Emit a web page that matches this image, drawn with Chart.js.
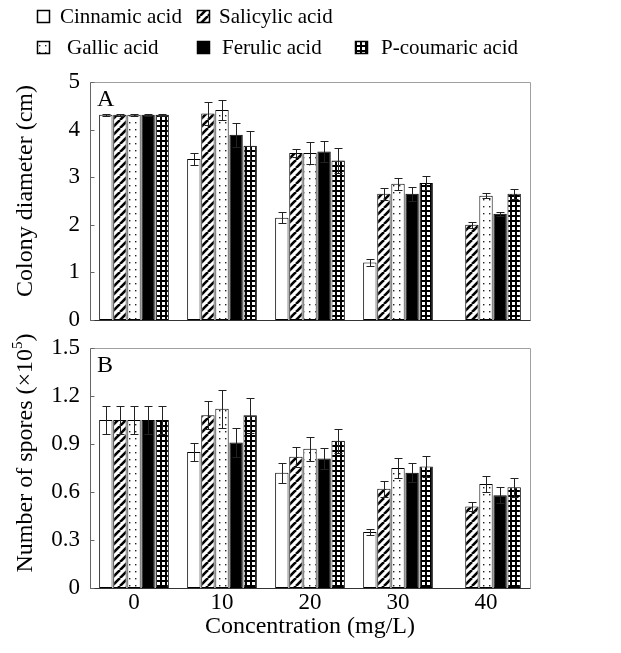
<!DOCTYPE html>
<html>
<head>
<meta charset="utf-8">
<script src="https://cdn.jsdelivr.net/npm/chart.js@4.4.1/dist/chart.umd.min.js"></script>
<style>
  html, body { margin: 0; padding: 0; background: #fff; }
  #wrap { position: relative; width: 621px; height: 653px; }
  canvas { position: absolute; left: 0; }
  #chartA { top: 0; }
  #chartB { top: 330px; }
</style>
</head>
<body>
<div id="wrap">
  <canvas id="chartA" width="621" height="330"></canvas>
  <canvas id="chartB" width="621" height="323"></canvas>
</div>
<script>
// categories and series
const categories = ['0', '10', '20', '30', '40'];
const acids = ['Cinnamic acid', 'Salicylic acid', 'Gallic acid', 'Ferulic acid', 'P-coumaric acid'];

// Panel A - colony diameter (cm)
const diamCinnamic = [4.31, 3.38, 2.15, 1.21, 0];
const diamSalicylic = [4.31, 4.34, 3.51, 2.65, 2.00];
const diamGallic = [4.31, 4.41, 3.51, 2.86, 2.61];
const diamFerulic = [4.31, 3.89, 3.54, 2.65, 2.23];
const diamCoumaric = [4.31, 3.66, 3.35, 2.88, 2.65];

const diamErrCinnamic = [0.02, 0.12, 0.11, 0.08, 0];
const diamErrSalicylic = [0.02, 0.25, 0.08, 0.13, 0.06];
const diamErrGallic = [0.02, 0.21, 0.23, 0.13, 0.05];
const diamErrFerulic = [0.02, 0.25, 0.23, 0.15, 0.04];
const diamErrCoumaric = [0.02, 0.31, 0.26, 0.15, 0.11];

// Panel B - number of spores (x10^5)
const sporeCinnamic = [1.05, 0.85, 0.72, 0.35, 0];
const sporeSalicylic = [1.05, 1.08, 0.82, 0.62, 0.51];
const sporeGallic = [1.05, 1.12, 0.87, 0.75, 0.65];
const sporeFerulic = [1.05, 0.91, 0.81, 0.72, 0.58];
const sporeCoumaric = [1.05, 1.08, 0.92, 0.76, 0.63];

const sporeErrCinnamic = [0.085, 0.058, 0.062, 0.02, 0];
const sporeErrSalicylic = [0.085, 0.088, 0.062, 0.05, 0.03];
const sporeErrGallic = [0.085, 0.12, 0.075, 0.065, 0.05];
const sporeErrFerulic = [0.085, 0.09, 0.067, 0.06, 0.05];
const sporeErrCoumaric = [0.085, 0.11, 0.075, 0.065, 0.06];

// axis ticks
const diamTicks = [0, 1, 2, 3, 4, 5];
const sporeTicks = [0, 0.3, 0.6, 0.9, 1.2, 1.5];

const SERIF = '"Liberation Serif", "DejaVu Serif", serif';

// --- fill patterns ---
function makeTile(w, h, draw) {
  const c = document.createElement('canvas');
  c.width = w; c.height = h;
  const g = c.getContext('2d');
  draw(g, w, h);
  return c;
}

const tiles = [
  null,
  makeTile(8, 8, (g, w, h) => {
    g.fillStyle = '#fff'; g.fillRect(0, 0, w, h);
    g.strokeStyle = '#000'; g.lineWidth = 2.6;
    for (const o of [-8, 0, 8]) {
      g.beginPath(); g.moveTo(o, h); g.lineTo(o + w, 0); g.stroke();
    }
  }),
  makeTile(6, 7, (g, w, h) => {
    g.fillStyle = '#fff'; g.fillRect(0, 0, w, h);
    g.fillStyle = '#222'; g.fillRect(3, 3, 1.4, 1.4);
  }),
  null,
  makeTile(5, 5, (g, w, h) => {
    g.fillStyle = '#fff'; g.fillRect(0, 0, w, h);
    g.fillStyle = '#000'; g.fillRect(0, 0, w, 2); g.fillRect(0, 0, 2, h);
  })
];

function fillFor(ctx, i) {
  if (i === 0) return '#fff';
  if (i === 3) return '#000';
  return ctx.createPattern(tiles[i], 'repeat');
}

// --- plugins ---
const errorBars = {
  id: 'errorBars',
  afterDatasetsDraw(chart) {
    const { ctx } = chart;
    const yScale = chart.scales.y;
    ctx.save();
    ctx.strokeStyle = '#222';
    ctx.lineWidth = 1;
    chart.data.datasets.forEach((ds, di) => {
      const meta = chart.getDatasetMeta(di);
      meta.data.forEach((bar, i) => {
        const v = ds.data[i], e = ds.errors[i];
        if (!e) return;
        const yTop = Math.round(yScale.getPixelForValue(v + e)) + 0.5;
        const yBot = Math.round(yScale.getPixelForValue(v - e)) + 0.5;
        const x = Math.round(bar.x) + 0.5;
        ctx.beginPath();
        ctx.moveTo(x, yTop); ctx.lineTo(x, yBot);
        ctx.moveTo(x - 4, yTop); ctx.lineTo(x + 4, yTop);
        ctx.moveTo(x - 4, yBot); ctx.lineTo(x + 4, yBot);
        ctx.stroke();
      });
    });
    ctx.restore();
  }
};

const frame = {
  id: 'frame',
  afterDraw(chart, args, opts) {
    const { ctx, chartArea: a } = chart;
    const yScale = chart.scales.y;
    ctx.save();
    ctx.lineWidth = 1;
    const L = Math.round(a.left) + 0.5, R = Math.round(a.right) + 0.5;
    const T = Math.round(a.top) + 0.5, B = Math.round(a.bottom) + 0.5;
    ctx.strokeStyle = '#a0a0a0';
    ctx.beginPath(); ctx.moveTo(L, T); ctx.lineTo(R, T); ctx.lineTo(R, B); ctx.stroke();
    ctx.strokeStyle = '#666';
    ctx.beginPath(); ctx.moveTo(L, T); ctx.lineTo(L, B); ctx.stroke();
    ctx.strokeStyle = '#333';
    ctx.beginPath(); ctx.moveTo(L, B); ctx.lineTo(R, B); ctx.stroke();
    // inward ticks on the y axis
    ctx.strokeStyle = '#666';
    opts.ticks.forEach(t => {
      const y = Math.round(yScale.getPixelForValue(t)) + 0.5;
      ctx.beginPath(); ctx.moveTo(L, y); ctx.lineTo(L + 4, y); ctx.stroke();
    });
    // panel letter
    ctx.fillStyle = '#000';
    ctx.font = '24px ' + SERIF;
    ctx.textBaseline = 'top';
    ctx.textAlign = 'left';
    ctx.fillText(opts.letter, a.left + 7, a.top + 6);
    // rotated y title
    ctx.translate(opts.titleX, (a.top + a.bottom) / 2 + opts.titleShift);
    ctx.rotate(-Math.PI / 2);
    ctx.textBaseline = 'middle';
    const big = '24px ' + SERIF, small = '15px ' + SERIF;
    const parts = opts.title;
    let total = 0;
    parts.forEach(p => { ctx.font = p.sup ? small : big; total += ctx.measureText(p.text).width; });
    let x = -total / 2;
    parts.forEach(p => {
      ctx.font = p.sup ? small : big;
      ctx.fillText(p.text, x, p.sup ? -8 : 0);
      x += ctx.measureText(p.text).width;
    });
    ctx.restore();
  }
};

const legendBoxes = {
  id: 'legendBoxes',
  afterDraw(chart) {
    const { ctx } = chart;
    const items = [
      { i: 0, bx: 37, by: 10, tx: 60, ty: 17 },
      { i: 1, bx: 197, by: 10, tx: 219, ty: 17 },
      { i: 2, bx: 37, by: 41, tx: 67, ty: 48 },
      { i: 3, bx: 197, by: 41, tx: 222, ty: 48 },
      { i: 4, bx: 355, by: 41, tx: 381, ty: 48 }
    ];
    ctx.save();
    items.forEach(it => {
      ctx.fillStyle = fillFor(ctx, it.i);
      ctx.fillRect(it.bx, it.by, 12, 12);
      ctx.strokeStyle = '#000';
      ctx.lineWidth = 1.5;
      ctx.strokeRect(it.bx + 0.5, it.by + 0.5, 12, 12);
      ctx.fillStyle = '#000';
      ctx.font = '21px ' + SERIF;
      ctx.textBaseline = 'middle';
      ctx.textAlign = 'left';
      ctx.fillText(acids[it.i], it.tx, it.ty);
    });
    ctx.restore();
  }
};

function buildDatasets(ctx, values, errors) {
  return values.map((vals, i) => ({
    label: acids[i],
    data: vals,
    errors: errors[i],
    backgroundColor: fillFor(ctx, i),
    borderColor: '#000',
    borderWidth: 1,
    borderSkipped: false,
    categoryPercentage: 0.8,
    barPercentage: 0.95
  }));
}

function makeChart(id, cfg) {
  const canvas = document.getElementById(id);
  const ctx = canvas.getContext('2d');
  return new Chart(canvas, {
    type: 'bar',
    data: {
      labels: categories,
      datasets: buildDatasets(ctx, cfg.values, cfg.errors)
    },
    options: {
      responsive: false,
      animation: false,
      devicePixelRatio: 1,
      layout: { padding: cfg.padding },
      plugins: {
        legend: { display: false },
        tooltip: { enabled: false },
        frame: { ticks: cfg.ticks, letter: cfg.letter, title: cfg.title, titleX: 26, titleShift: cfg.titleShift }
      },
      scales: {
        x: {
          grid: { display: false },
          border: { display: false },
          ticks: {
            display: cfg.showX,
            color: '#000',
            font: { family: SERIF, size: 23 },
            padding: -7
          },
          title: {
            display: cfg.showX,
            text: 'Concentration (mg/L)',
            color: '#000',
            font: { family: SERIF, size: 24 },
            padding: { top: 0, bottom: 7 }
          },
          afterFit(scale) {
            scale.height = cfg.xHeight;
            scale.paddingLeft = 0; scale.paddingRight = 0;
          }
        },
        y: {
          min: 0,
          max: cfg.ticks[cfg.ticks.length - 1],
          grid: { display: false, drawTicks: false },
          border: { display: false },
          afterBuildTicks(scale) { scale.ticks = cfg.ticks.map(v => ({ value: v })); },
          ticks: {
            color: '#000',
            padding: 10,
            font: { family: SERIF, size: 23 },
            callback: v => String(v)
          },
          afterFit(scale) {
            scale.width = 90;
            scale.paddingTop = 0; scale.paddingBottom = 0;
          }
        }
      }
    },
    plugins: cfg.extra.concat([errorBars, frame])
  });
}

makeChart('chartA', {
  values: [diamCinnamic, diamSalicylic, diamGallic, diamFerulic, diamCoumaric],
  errors: [diamErrCinnamic, diamErrSalicylic, diamErrGallic, diamErrFerulic, diamErrCoumaric],
  ticks: diamTicks,
  letter: 'A',
  title: [{ text: 'Colony diameter (cm)' }],
  titleShift: -10,
  showX: false,
  xHeight: 0,
  padding: { left: 0, right: 91, top: 82, bottom: 10 },
  extra: [legendBoxes]
});

makeChart('chartB', {
  values: [sporeCinnamic, sporeSalicylic, sporeGallic, sporeFerulic, sporeCoumaric],
  errors: [sporeErrCinnamic, sporeErrSalicylic, sporeErrGallic, sporeErrFerulic, sporeErrCoumaric],
  ticks: sporeTicks,
  letter: 'B',
  title: [{ text: 'Number of spores (\u00d710' }, { text: '5', sup: true }, { text: ')' }],
  titleShift: -15,
  showX: true,
  xHeight: 60,
  padding: { left: 0, right: 91, top: 18, bottom: 5 },
  extra: []
});
</script>
</body>
</html>
